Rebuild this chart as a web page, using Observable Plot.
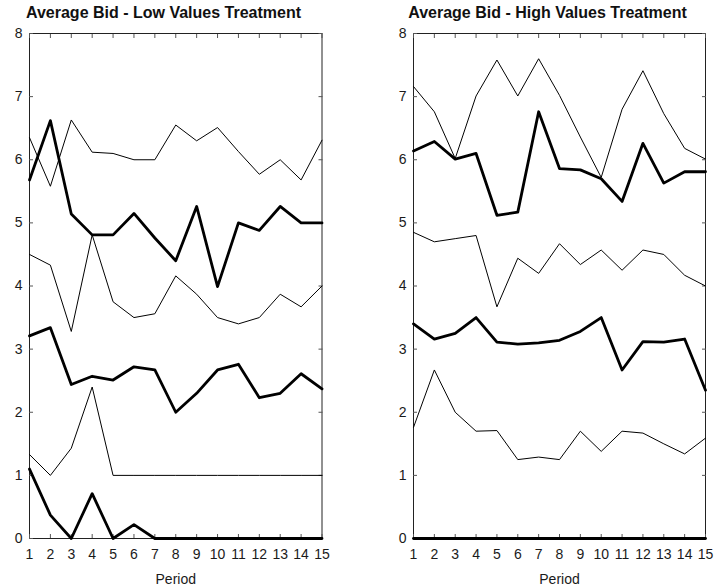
<!DOCTYPE html>
<html>
<head>
<meta charset="utf-8">
<script src="https://cdn.jsdelivr.net/npm/d3@7"></script>
<script src="https://cdn.jsdelivr.net/npm/@observablehq/plot@0.6"></script>
<style>
  html, body { margin: 0; padding: 0; background: #fff; }
  #chart { position: relative; width: 714px; height: 588px; font-family: "Liberation Sans", Arial, sans-serif; }
  #chart svg { position: absolute; top: 0; }
  .title { position: absolute; top: 5px; font-weight: bold; font-size: 16px; line-height: 16px; text-align: center; color: #111; white-space: nowrap; }
</style>
</head>
<body>
<div id="chart"></div>
<script>
// Periods and axis ticks
const periods = [1, 2, 3, 4, 5, 6, 7, 8, 9, 10, 11, 12, 13, 14, 15];
const yTicks = [0, 1, 2, 3, 4, 5, 6, 7, 8];
const titles = ["Average Bid - Low Values Treatment", "Average Bid - High Values Treatment"];
const xLabel = "Period";

// Low values treatment: thin and thick series, top to bottom
const lowThin1  = [6.35, 5.58, 6.63, 6.12, 6.10, 6.00, 6.00, 6.55, 6.30, 6.51, 6.13, 5.77, 6.00, 5.68, 6.31];
const lowThick1 = [5.68, 6.62, 5.14, 4.81, 4.81, 5.15, 4.76, 4.40, 5.26, 3.99, 5.00, 4.88, 5.26, 5.00, 5.00];
const lowThin2  = [4.50, 4.33, 3.28, 4.81, 3.75, 3.50, 3.56, 4.16, 3.87, 3.50, 3.40, 3.50, 3.87, 3.67, 4.00];
const lowThick2 = [3.21, 3.34, 2.44, 2.57, 2.51, 2.72, 2.67, 2.00, 2.30, 2.67, 2.76, 2.23, 2.30, 2.61, 2.37];
const lowThin3  = [1.33, 1.00, 1.43, 2.40, 1.00, 1.00, 1.00, 1.00, 1.00, 1.00, 1.00, 1.00, 1.00, 1.00, 1.00];
const lowThick3 = [1.10, 0.37, 0.00, 0.71, 0.00, 0.22, 0.00, 0.00, 0.00, 0.00, 0.00, 0.00, 0.00, 0.00, 0.00];

// High values treatment: thin and thick series, top to bottom
const highThin1  = [7.16, 6.76, 6.02, 7.01, 7.58, 7.01, 7.60, 7.02, 6.36, 5.72, 6.80, 7.41, 6.73, 6.18, 6.01];
const highThick1 = [6.14, 6.29, 6.01, 6.10, 5.12, 5.17, 6.76, 5.86, 5.84, 5.70, 5.34, 6.26, 5.63, 5.81, 5.81];
const highThin2  = [4.85, 4.70, 4.75, 4.80, 3.67, 4.44, 4.20, 4.67, 4.34, 4.57, 4.25, 4.57, 4.50, 4.17, 4.00];
const highThick2 = [3.40, 3.16, 3.25, 3.50, 3.11, 3.08, 3.10, 3.14, 3.28, 3.50, 2.67, 3.12, 3.11, 3.16, 2.35];
const highThin3  = [1.76, 2.67, 2.00, 1.70, 1.71, 1.25, 1.29, 1.25, 1.70, 1.38, 1.70, 1.67, 1.50, 1.34, 1.59];
const highThick3 = [0, 0, 0, 0, 0, 0, 0, 0, 0, 0, 0, 0, 0, 0, 0];

// Turn a set of named series into long-format rows
function toRows(seriesMap) {
  const rows = [];
  for (const [name, values] of Object.entries(seriesMap)) {
    values.forEach((v, i) => rows.push({series: name, period: periods[i], value: v}));
  }
  return rows;
}

const W = 357, H = 588;
const FONT = "'Liberation Sans', Arial, sans-serif";

function panel(thin, thick, marginLeft, marginRight) {
  return Plot.plot({
    width: W,
    height: H,
    marginTop: 33,
    marginBottom: 50,
    marginLeft,
    marginRight,
    x: {domain: [1, 15]},
    y: {domain: [0, 8]},
    style: {fontFamily: FONT, fontSize: "14px", color: "#1a1a1a", background: "transparent"},
    marks: [
      Plot.frame({stroke: "#222"}),
      // inward tick marks on all four sides
      Plot.axisX(periods, {anchor: "bottom", tickSize: -4, fill: "none", stroke: "#555"}),
      Plot.axisX(periods, {anchor: "top", tickSize: -4, fill: "none", stroke: "#555"}),
      Plot.axisY(yTicks, {anchor: "left", tickSize: -4, fill: "none", stroke: "#555"}),
      Plot.axisY(yTicks, {anchor: "right", tickSize: -4, fill: "none", stroke: "#555"}),
      // tick labels and axis title
      Plot.axisX(periods, {anchor: "bottom", tickSize: 0, tickPadding: 11, tickFormat: "d", fontSize: 14,
        label: xLabel, labelAnchor: "center", labelArrow: "none", labelOffset: 45}),
      Plot.axisY(yTicks, {anchor: "left", tickSize: 0, tickPadding: 7, tickFormat: "d", fontSize: 14, label: null}),
      Plot.line(toRows(thin), {x: "period", y: "value", z: "series", stroke: "#000", strokeWidth: 1}),
      Plot.line(toRows(thick), {x: "period", y: "value", z: "series", stroke: "#000", strokeWidth: 2.8})
    ]
  });
}

const root = document.getElementById("chart");

const left = panel(
  {a: lowThin1, b: lowThin2, c: lowThin3},
  {a: lowThick1, b: lowThick2, c: lowThick3},
  29, 35.5
);
left.style.left = "0px";
root.appendChild(left);

const right = panel(
  {a: highThin1, b: highThin2, c: highThin3},
  {a: highThick1, b: highThick2, c: highThick3},
  56, 9
);
right.style.left = W + "px";
root.appendChild(right);

// panel titles
[[titles[0], 0, 327], [titles[1], 390, 315]].forEach(([text, x, w]) => {
  const d = document.createElement("div");
  d.className = "title";
  d.style.left = x + "px";
  d.style.width = w + "px";
  d.textContent = text;
  root.appendChild(d);
});
</script>
</body>
</html>
